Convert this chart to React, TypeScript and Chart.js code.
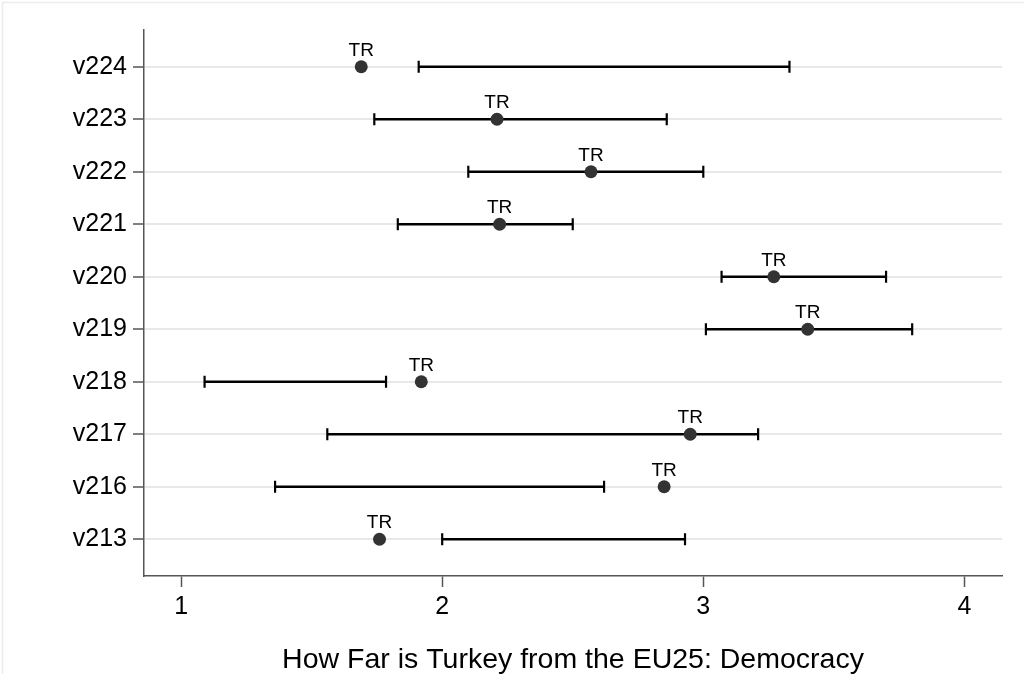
import React, { useEffect, useRef } from 'react';
import { Chart, registerables } from 'chart.js';

Chart.register(...registerables);

// Rows from top to bottom
const categories = ['v224', 'v223', 'v222', 'v221', 'v220', 'v219', 'v218', 'v217', 'v216', 'v213'];
const trValues = [1.69, 2.21, 2.57, 2.22, 3.27, 3.40, 1.92, 2.95, 2.85, 1.76];
const lowValues = [1.91, 1.74, 2.10, 1.83, 3.07, 3.01, 1.09, 1.56, 1.36, 2.00];
const highValues = [3.33, 2.86, 3.00, 2.50, 3.70, 3.80, 1.785, 3.21, 2.62, 2.93];
const pointLabel = 'TR';
const xTicks = [1, 2, 3, 4];
const xTitle = 'How Far is Turkey from the EU25: Democracy';

const FONT = '"Liberation Sans", Arial, Helvetica, sans-serif';

export default function App() {
  const canvasRef = useRef<HTMLCanvasElement | null>(null);

  useEffect(() => {
    document.body.style.margin = '0';
    const canvas = canvasRef.current;
    if (!canvas) return;
    const n = categories.length;
    const pos = (i: number) => n - 1 - i;

    const dots = categories.map((_, i) => ({ x: trValues[i], y: pos(i) }));
    const bars: any[] = [];
    categories.forEach((_, i) => {
      bars.push({ x: lowValues[i], y: pos(i) });
      bars.push({ x: highValues[i], y: pos(i) });
      bars.push({ x: null, y: null });
    });

    const labelPlugin = {
      id: 'trLabels',
      afterDatasetsDraw(chart: any) {
        const meta = chart.getDatasetMeta(0);
        const ctx = chart.ctx;
        ctx.save();
        ctx.font = `19px ${FONT}`;
        ctx.fillStyle = '#000';
        ctx.textAlign = 'center';
        ctx.textBaseline = 'alphabetic';
        meta.data.forEach((pt: any) => ctx.fillText(pointLabel, pt.x, pt.y - 11));
        ctx.restore();
      },
    };

    const framePlugin = {
      id: 'frame',
      beforeDraw(chart: any) {
        const ctx = chart.ctx;
        ctx.save();
        ctx.fillStyle = '#fff';
        ctx.fillRect(0, 0, chart.width, chart.height);
        ctx.strokeStyle = '#ececec';
        ctx.lineWidth = 1.5;
        ctx.beginPath();
        ctx.moveTo(2.5, chart.height);
        ctx.lineTo(2.5, 2.5);
        ctx.lineTo(chart.width, 2.5);
        ctx.stroke();
        ctx.restore();
      },
    };

    const chart = new Chart(canvas, {
      type: 'scatter',
      data: {
        datasets: [
          {
            type: 'scatter',
            data: dots,
            pointRadius: 6.5,
            pointHoverRadius: 6.5,
            backgroundColor: '#333333',
            borderWidth: 0,
          } as any,
          {
            type: 'line',
            data: bars,
            borderColor: '#000',
            borderWidth: 2.6,
            spanGaps: false,
            pointStyle: 'line',
            pointRotation: 90,
            pointRadius: 6,
            pointBorderWidth: 2.2,
            pointBorderColor: '#000',
            pointBackgroundColor: '#000',
            fill: false,
          } as any,
        ],
      },
      options: {
        responsive: false,
        animation: false,
        devicePixelRatio: 1,
        events: [],
        layout: { padding: { left: 0, right: 22, top: 30, bottom: 0 } },
        plugins: { legend: { display: false }, tooltip: { enabled: false } },
        scales: {
          x: {
            type: 'linear',
            min: 0.858,
            max: 4.144,
            afterBuildTicks: (s: any) => {
              s.ticks = xTicks.map((v) => ({ value: v }));
            },
            afterFit: (s: any) => {
              s.height = 98;
            },
            ticks: {
              font: { size: 25, family: FONT },
              color: '#000',
              padding: 5,
              callback: (v: any) => String(v),
            },
            grid: {
              drawOnChartArea: false,
              tickLength: 11,
              tickColor: '#555',
              tickWidth: 1.5,
            },
            border: { display: true, color: '#555', width: 1.5 },
            title: {
              display: true,
              text: xTitle,
              color: '#000',
              font: { size: 28.5, family: FONT, lineHeight: 1 },
              padding: { top: 0, bottom: 0 },
            },
          },
          y: {
            type: 'linear',
            min: -0.7,
            max: n - 1 + 0.7,
            afterBuildTicks: (s: any) => {
              s.ticks = categories.map((_, i) => ({ value: i }));
            },
            afterFit: (s: any) => {
              s.width = 144;
            },
            ticks: {
              font: { size: 25, family: FONT },
              color: '#000',
              padding: 6,
              callback: (v: any) => categories[n - 1 - Number(v)],
            },
            grid: {
              color: '#e8e8e8',
              lineWidth: 2,
              tickLength: 11,
              tickColor: '#555',
              tickWidth: 1.5,
            },
            border: { display: true, color: '#555', width: 1.5 },
          },
        },
      },
      plugins: [framePlugin, labelPlugin],
    });

    return () => chart.destroy();
  }, []);

  return (
    <div style={{ width: 1024, height: 674 }}>
      <canvas ref={canvasRef} width={1024} height={674} style={{ display: 'block' }} />
    </div>
  );
}
